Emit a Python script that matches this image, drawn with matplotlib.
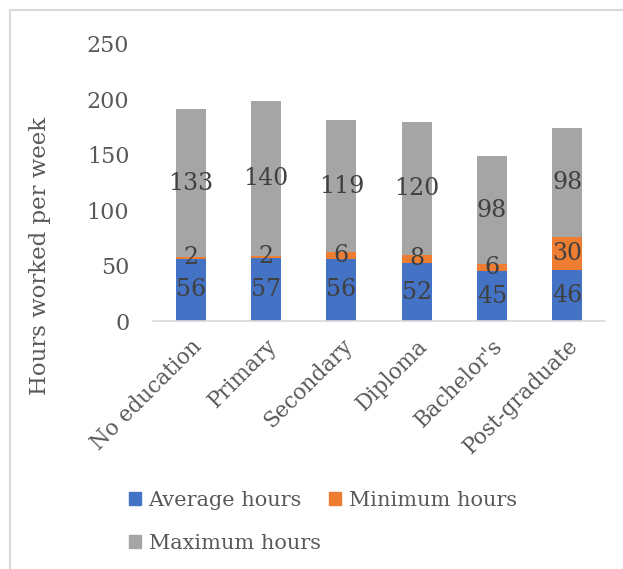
import matplotlib
matplotlib.use("Agg")
import matplotlib.pyplot as plt
from matplotlib.lines import Line2D
from matplotlib.patches import Patch

plt.rcParams['font.family'] = ['DejaVu Serif']

levels = ['No education', 'Primary', 'Secondary', 'Diploma', "Bachelor's", 'Post-graduate']
avg_hours = [56, 57, 56, 52, 45, 46]
min_hours = [2, 2, 6, 8, 6, 30]
max_hours = [133, 140, 119, 120, 98, 98]
yticks = [0, 50, 100, 150, 200, 250]

BLUE = '#4472C4'
ORANGE = '#ED7D31'
GREY = '#A5A5A5'
TEXT = '#595959'
LABEL = '#404040'

W, H = 623, 569
fig = plt.figure(figsize=(W / 100, H / 100), dpi=100)

# plot area in pixel terms
ax = fig.add_axes([153 / W, (H - 321) / H, (605 - 153) / W, (321 - 44) / H])

x = range(len(levels))
bottom2 = [a + b for a, b in zip(avg_hours, min_hours)]
series = [
    ('Average hours', avg_hours, [0] * len(levels), BLUE),
    ('Minimum hours', min_hours, avg_hours, ORANGE),
    ('Maximum hours', max_hours, bottom2, GREY),
]
for name, vals, bot, col in series:
    bars = ax.bar(x, vals, bottom=bot, width=0.4, color=col, label=name)
    ax.bar_label(bars, labels=[str(v) for v in vals], label_type='center',
                 fontsize=17, color=LABEL)

ax.set_ylim(0, 250)
ax.set_xlim(-0.5, len(levels) - 0.5)
ax.set_yticks(yticks)
ax.set_xticks(list(x))
ax.set_xticklabels(levels, rotation=45, ha='right', rotation_mode='anchor')
ax.tick_params(axis='both', length=0, labelsize=16, labelcolor=TEXT)
ax.tick_params(axis='y', pad=17)
ax.tick_params(axis='x', pad=10, labelsize=15.5)
for s in ['top', 'right', 'left']:
    ax.spines[s].set_visible(False)
ax.spines['bottom'].set_color('#D9D9D9')
ax.spines['bottom'].set_linewidth(1.2)

fig.text(40 / W, 1 - 256 / H, 'Hours worked per week', rotation=90,
         ha='center', va='center', fontsize=16.5, color=TEXT)

# legend filled column-wise: order so rows read Average, Minimum / Maximum
order = [0, 2, 1]
handles = [Patch(color=series[i][3]) for i in order]
labels = [series[i][0] for i in order]
fig.legend(handles, labels, loc='upper left',
           bbox_to_anchor=(110 / W, 1 - 472 / H), ncol=2, frameon=False,
           fontsize=15, labelcolor=TEXT, handlelength=0.6, handleheight=0.6,
           handletextpad=0.35, columnspacing=0.4, labelspacing=1.15)

# chart frame
fig.add_artist(Line2D([10 / W, 1], [1 - 10 / H, 1 - 10 / H], color='#D9D9D9', lw=1.5))
fig.add_artist(Line2D([10 / W, 10 / W], [0, 1 - 10 / H], color='#D9D9D9', lw=1.5))

fig.savefig('out.png', dpi=100)
